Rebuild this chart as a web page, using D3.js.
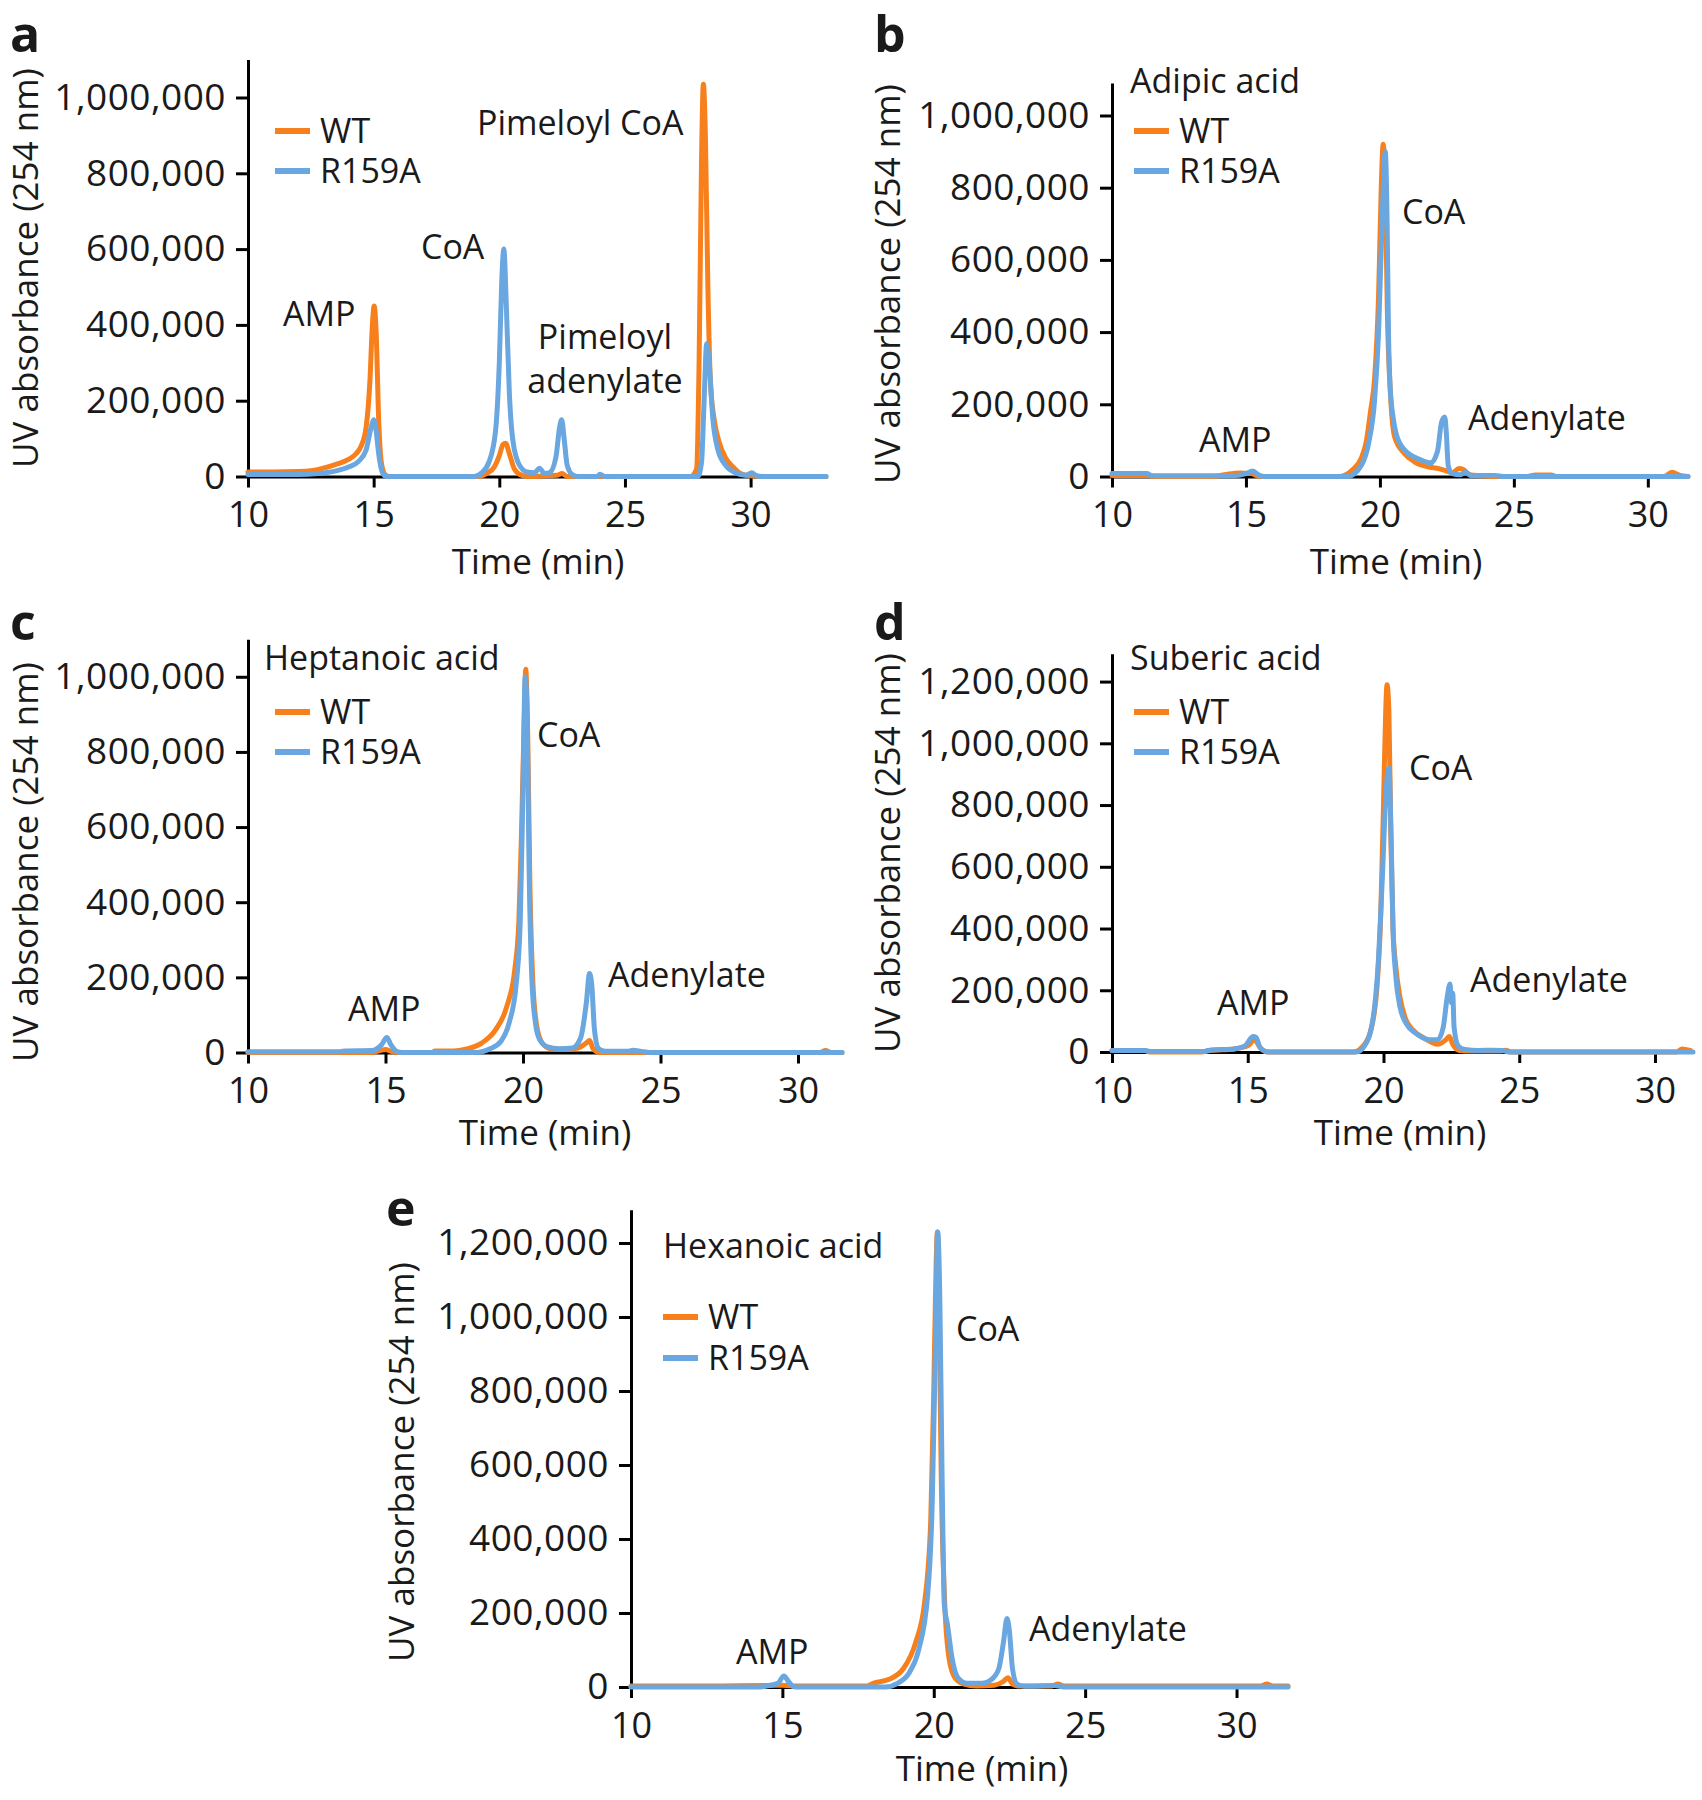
<!DOCTYPE html>
<html>
<head>
<meta charset="utf-8">
<script src="https://cdn.jsdelivr.net/npm/d3@7"></script>
<style>
  html, body { margin: 0; padding: 0; background: #fff; }
  svg text { font-family: "Open Sans", "Noto Sans", sans-serif; fill: #1a1a1a; }
</style>
</head>
<body>
<svg id="chart" width="1702" height="1800"></svg>
<script>
// ---------------- DATA ----------------
const xTicks = [10, 15, 20, 25, 30];
const yTicks1M = [0, 200000, 400000, 600000, 800000, 1000000];
const yTicks12M = [0, 200000, 400000, 600000, 800000, 1000000, 1200000];
const seriesNames = ["WT", "R159A"];

// Panel a (pimelic acid) — [time (min), UV absorbance]
const wtA = [[10,12000],[11,12000],[12,13000],[12.5,15000],[13,22000],[13.5,32000],[14,45000],[14.3,60000],[14.5,80000],[14.7,130000],[14.85,250000],[14.95,400000],[15.02,450000],[15.1,380000],[15.2,150000],[15.3,40000],[15.45,5000],[15.6,0],[19.2,0],[19.5,8000],[19.8,25000],[20.0,55000],[20.15,85000],[20.25,88000],[20.4,60000],[20.6,20000],[20.9,3000],[21.2,0],[22.3,3000],[22.5,8000],[22.7,0],[27.6,0],[27.85,20000],[27.95,300000],[28.05,850000],[28.12,1035000],[28.2,900000],[28.3,500000],[28.4,250000],[28.55,150000],[28.75,90000],[29.0,50000],[29.3,25000],[29.6,8000],[30.0,2000],[30.5,0],[33,0]];
const r159aA = [[10,5000],[12,5000],[12.8,8000],[13.5,15000],[14,25000],[14.4,40000],[14.7,70000],[14.9,130000],[15.0,150000],[15.1,120000],[15.2,60000],[15.35,10000],[15.5,0],[19.0,0],[19.3,10000],[19.6,40000],[19.85,120000],[20.0,300000],[20.1,520000],[20.18,600000],[20.28,450000],[20.4,220000],[20.55,90000],[20.8,30000],[21.1,12000],[21.4,10000],[21.6,22000],[21.8,8000],[22.0,10000],[22.25,50000],[22.4,130000],[22.48,150000],[22.58,100000],[22.7,30000],[22.9,5000],[23.1,0],[23.9,0],[24.0,6000],[24.2,0],[27.9,0],[28.05,40000],[28.15,200000],[28.25,350000],[28.35,300000],[28.5,150000],[28.7,70000],[29.0,30000],[29.4,10000],[29.8,3000],[30.05,10000],[30.2,3000],[30.4,0],[33,0]];

// Panel b (adipic acid)
const wtB = [[10,3000],[11.3,3000],[11.6,0],[13.8,0],[14.2,5000],[14.8,10000],[15.2,8000],[15.5,0],[18.5,0],[19.0,20000],[19.3,50000],[19.5,100000],[19.65,180000],[19.8,270000],[19.95,500000],[20.05,800000],[20.12,920000],[20.2,800000],[20.28,450000],[20.4,220000],[20.55,110000],[20.9,65000],[21.3,40000],[21.8,27000],[22.2,22000],[22.5,15000],[22.7,10000],[22.95,22000],[23.1,20000],[23.35,5000],[23.8,2000],[24.2,0],[25.5,0],[25.8,4000],[26.4,4000],[26.6,0],[30.6,0],[30.9,12000],[31.2,3000],[31.5,0]];
const r159aB = [[10,8000],[11.3,8000],[11.5,2000],[14.5,2000],[15.0,8000],[15.25,15000],[15.5,3000],[15.7,0],[18.8,0],[19.3,30000],[19.6,100000],[19.8,210000],[19.95,400000],[20.1,750000],[20.2,900000],[20.27,700000],[20.32,400000],[20.38,250000],[20.5,160000],[20.6,120000],[20.9,75000],[21.5,47000],[21.9,38000],[22.15,70000],[22.3,150000],[22.42,165000],[22.48,120000],[22.55,30000],[22.7,8000],[23.0,5000],[23.2,12000],[23.4,3000],[24.3,3000],[24.6,0],[31.5,0]];

// Panel c (heptanoic acid)
const wtC = [[10,0],[14.5,0],[14.8,5000],[15.0,8000],[15.2,3000],[15.4,0],[16.7,0],[16.8,4000],[17.5,4000],[18.0,10000],[18.5,25000],[19.0,60000],[19.4,120000],[19.7,220000],[19.85,350000],[19.95,600000],[20.05,900000],[20.1,1020000],[20.17,850000],[20.25,450000],[20.35,200000],[20.5,70000],[20.7,25000],[21.0,10000],[21.5,8000],[22.0,12000],[22.3,25000],[22.42,32000],[22.55,10000],[22.8,0],[30.8,0],[31.0,5000],[31.2,0],[31.6,0]];
const r159aC = [[10,2000],[13.3,2000],[13.5,4000],[14.5,5000],[14.85,20000],[15.05,40000],[15.2,20000],[15.4,3000],[15.6,0],[18.3,0],[18.8,10000],[19.2,30000],[19.5,80000],[19.75,180000],[19.9,350000],[20.0,700000],[20.08,1000000],[20.15,900000],[20.22,500000],[20.32,200000],[20.45,80000],[20.6,35000],[20.9,15000],[21.3,10000],[21.8,12000],[22.1,40000],[22.3,130000],[22.42,210000],[22.5,180000],[22.6,60000],[22.75,10000],[23.0,3000],[23.8,3000],[24.0,6000],[24.3,3000],[24.6,0],[31.6,0]];

// Panel d (suberic acid)
const wtD = [[10,5000],[11.2,5000],[11.4,0],[13.3,0],[13.6,5000],[14.5,10000],[15.0,20000],[15.25,40000],[15.45,15000],[15.7,0],[18.9,0],[19.2,15000],[19.5,60000],[19.75,200000],[19.9,450000],[20.0,800000],[20.08,1100000],[20.13,1190000],[20.2,1100000],[20.27,700000],[20.35,400000],[20.45,280000],[20.6,180000],[20.8,110000],[21.1,70000],[21.5,45000],[22.0,25000],[22.3,40000],[22.42,50000],[22.55,25000],[22.8,5000],[23.2,3000],[24.3,3000],[24.5,6000],[24.7,0],[30.8,0],[31.0,10000],[31.3,5000]];
const r159aD = [[10,5000],[11.2,5000],[11.4,2000],[13.4,2000],[13.6,6000],[14.5,10000],[14.9,20000],[15.2,50000],[15.3,48000],[15.45,15000],[15.65,2000],[15.8,0],[19.0,0],[19.3,20000],[19.6,100000],[19.8,280000],[19.95,550000],[20.1,850000],[20.2,920000],[20.28,700000],[20.35,400000],[20.45,250000],[20.6,150000],[20.85,90000],[21.2,60000],[21.7,40000],[22.0,40000],[22.2,80000],[22.35,180000],[22.45,220000],[22.5,160000],[22.55,190000],[22.6,80000],[22.75,20000],[23.0,8000],[23.5,5000],[24.0,6000],[24.4,5000],[24.6,0],[31.4,0]];

// Panel e (hexanoic acid)
const wtE = [[10,3000],[13,3000],[14.5,4000],[15,5000],[15.3,3000],[16.5,3000],[17.8,3000],[18.0,10000],[18.5,20000],[19.0,50000],[19.4,120000],[19.7,230000],[19.9,450000],[20.0,800000],[20.08,1150000],[20.12,1230000],[20.18,1000000],[20.25,550000],[20.35,250000],[20.5,80000],[20.7,25000],[21.0,8000],[21.4,3000],[22.0,5000],[22.3,15000],[22.45,25000],[22.6,8000],[22.8,3000],[23.9,3000],[24.1,8000],[24.3,3000],[30.8,3000],[31.0,8000],[31.2,3000],[31.7,3000]];
const r159aE = [[10,0],[14.2,0],[14.5,3000],[14.85,10000],[15.05,30000],[15.2,15000],[15.35,2000],[15.5,0],[18.4,0],[18.8,10000],[19.2,40000],[19.5,100000],[19.8,250000],[19.95,500000],[20.05,900000],[20.13,1230000],[20.2,1050000],[20.27,600000],[20.35,220000],[20.45,170000],[20.6,80000],[20.8,25000],[21.1,10000],[21.6,10000],[21.9,20000],[22.15,50000],[22.3,120000],[22.42,185000],[22.5,150000],[22.6,50000],[22.75,8000],[23.0,2000],[24.0,4000],[24.3,0],[31.7,0]];

const titlesSub = ["", "Adipic acid", "Heptanoic acid", "Suberic acid", "Hexanoic acid"];
const annotA = ["AMP", "CoA", "Pimeloyl CoA", "Pimeloyl", "adenylate"];
const annotOther = ["AMP", "CoA", "Adenylate"];

// ---------------- LAYOUT ----------------
const COLORS = { WT: "#F7801C", R159A: "#6AA6DF" };
const panels = [
  { letter: "a", wt: wtA, mut: r159aA, sub: titlesSub[0], xDom: [10, 33], xR: [248, 826], yDom: [0, 1100000], yR: [476.5, 59.6], yTicks: yTicks1M,
    letterPos: [10, 52], yTitle: [38, 268], xTitle: [538, 574], legend: [275, 131],
    annots: [[annotA[0], 283, 326, "start"], [annotA[1], 421, 259, "start"], [annotA[2], 477, 135, "start"], [annotA[3], 605, 349, "middle"], [annotA[4], 605, 393, "middle"]] },
  { letter: "b", wt: wtB, mut: r159aB, sub: titlesSub[1], xDom: [10, 31.5], xR: [1112, 1688], yDom: [0, 1090000], yR: [476.5, 83], yTicks: yTicks1M,
    letterPos: [874, 52], yTitle: [900, 284], xTitle: [1396, 574], legend: [1134, 131], subPos: [1130, 93],
    annots: [[annotOther[0], 1199, 452, "start"], [annotOther[1], 1402, 224, "start"], [annotOther[2], 1468, 430, "start"]] },
  { letter: "c", wt: wtC, mut: r159aC, sub: titlesSub[2], xDom: [10, 31.6], xR: [248, 842], yDom: [0, 1100000], yR: [1052.5, 639.2], yTicks: yTicks1M,
    letterPos: [10, 640], yTitle: [38, 862], xTitle: [545, 1145], legend: [275, 712], subPos: [264, 670],
    annots: [[annotOther[0], 348, 1021, "start"], [annotOther[1], 537, 747, "start"], [annotOther[2], 608, 987, "start"]] },
  { letter: "d", wt: wtD, mut: r159aD, sub: titlesSub[3], xDom: [10, 31.4], xR: [1112, 1693], yDom: [0, 1290000], yR: [1052, 653.8], yTicks: yTicks12M,
    letterPos: [874, 640], yTitle: [900, 853], xTitle: [1400, 1145], legend: [1134, 712], subPos: [1130, 670],
    annots: [[annotOther[0], 1217, 1015, "start"], [annotOther[1], 1409, 780, "start"], [annotOther[2], 1470, 992, "start"]] },
  { letter: "e", wt: wtE, mut: r159aE, sub: titlesSub[4], xDom: [10, 31.7], xR: [631, 1288], yDom: [0, 1290000], yR: [1687, 1209.7], yTicks: yTicks12M,
    letterPos: [386, 1226], yTitle: [414, 1462], xTitle: [982, 1781], legend: [663, 1317], legendGap: 41, subPos: [663, 1258],
    annots: [[annotOther[0], 736, 1664, "start"], [annotOther[1], 956, 1341, "start"], [annotOther[2], 1029, 1641, "start"]] }
];

const svg = d3.select("#chart");
const fmt = d3.format(",");

panels.forEach(p => {
  const g = svg.append("g");
  const x = d3.scaleLinear().domain(p.xDom).range(p.xR);
  const y = d3.scaleLinear().domain(p.yDom).range(p.yR);

  // axes (drawn below the traces)
  const yAxis = g.append("g").attr("transform", `translate(${p.xR[0]},0)`)
    .call(d3.axisLeft(y).tickValues(p.yTicks).tickFormat(fmt).tickSize(12).tickSizeOuter(0).tickPadding(10));
  const xAxis = g.append("g").attr("transform", `translate(0,${p.yR[0]})`)
    .call(d3.axisBottom(x).tickValues(xTicks).tickSize(11).tickSizeOuter(0).tickPadding(14));
  [yAxis, xAxis].forEach(ax => {
    ax.select(".domain").attr("stroke", "#000").attr("stroke-width", 3);
    ax.selectAll(".tick line").attr("stroke", "#000").attr("stroke-width", 3);
    ax.selectAll(".tick text").attr("fill", "#1a1a1a");
  });
  yAxis.selectAll(".tick text").style("font-size", "37px").style("letter-spacing", "0.5px");
  xAxis.selectAll(".tick text").style("font-size", "36px");

  const line = d3.line().x(d => x(d[0])).y(d => y(d[1])).curve(d3.curveMonotoneX);
  [[p.wt, COLORS.WT], [p.mut, COLORS.R159A]].forEach(([data, c]) => {
    g.append("path").datum(data).attr("d", line)
      .attr("fill", "none").attr("stroke", c).attr("stroke-width", 5)
      .attr("stroke-linejoin", "round").attr("stroke-linecap", "round");
  });

  // panel letter
  g.append("text").attr("x", p.letterPos[0]).attr("y", p.letterPos[1])
    .style("font-size", "50px").style("font-weight", "bold").text(p.letter);

  // axis titles
  g.append("text").attr("transform", `translate(${p.yTitle[0]},${p.yTitle[1]}) rotate(-90)`)
    .attr("text-anchor", "middle").style("font-size", "35px").text("UV absorbance (254 nm)");
  g.append("text").attr("x", p.xTitle[0]).attr("y", p.xTitle[1])
    .attr("text-anchor", "middle").style("font-size", "35px").text("Time (min)");

  // substrate title
  if (p.sub) {
    g.append("text").attr("x", p.subPos[0]).attr("y", p.subPos[1]).style("font-size", "34px").text(p.sub);
  }

  // legend
  const gap = p.legendGap || 40;
  seriesNames.forEach((n, i) => {
    const ly = p.legend[1] + i * gap;
    g.append("line").attr("x1", p.legend[0]).attr("x2", p.legend[0] + 35)
      .attr("y1", ly).attr("y2", ly).attr("stroke", COLORS[n]).attr("stroke-width", 6);
    g.append("text").attr("x", p.legend[0] + 45).attr("y", ly + 12).style("font-size", "34px").text(n);
  });

  // peak annotations
  p.annots.forEach(([t, ax, ay, anchor]) => {
    g.append("text").attr("x", ax).attr("y", ay).attr("text-anchor", anchor)
      .style("font-size", "34px").text(t);
  });
});
</script>
</body>
</html>
